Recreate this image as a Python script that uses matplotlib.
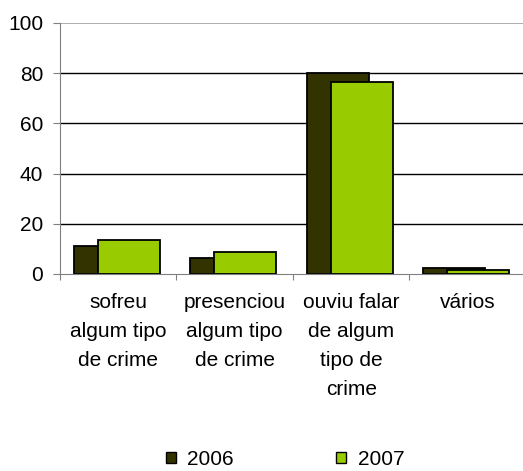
import numpy as np
import matplotlib.pyplot as plt
from matplotlib.patches import Patch

plt.rcParams['font.family'] = ['Liberation Sans', 'DejaVu Sans']

categories = ["sofreu\nalgum tipo\nde crime", "presenciou\nalgum tipo\nde crime",
              "ouviu falar\nde algum\ntipo de\ncrime", "vários"]
values_2006 = [11, 6.4, 80, 2.3]
values_2007 = [13.5, 8.6, 76.5, 1.6]
series_names = ["2006", "2007"]
colors = ["#333300", "#99CC00"]

fig = plt.figure(figsize=(5.23, 4.71), dpi=100)
ax = fig.add_axes([0.1147, 0.4183, 0.891, 0.5329])

x = np.arange(len(categories))
w = 0.53
ax.bar(x + 0.385, values_2006, width=w, color=colors[0], edgecolor="black", linewidth=1.3, zorder=2)
ax.bar(x + 0.59, values_2007, width=w, color=colors[1], edgecolor="black", linewidth=1.3, zorder=3)

ax.set_xlim(0, len(categories))
ax.set_ylim(0, 100)
ax.set_yticks([0, 20, 40, 60, 80, 100])
ax.tick_params(axis='y', labelsize=15, length=5, color="#808080", pad=7)
for yv in [20, 40, 60, 80]:
    ax.axhline(yv, color="black", linewidth=1, zorder=1)
ax.axhline(100, color="#a0a0a0", linewidth=1.2, zorder=1)

ax.set_xticks(np.arange(len(categories) + 1))
ax.set_xticklabels([])
ax.tick_params(axis='x', which='major', length=4, color="#808080")
ax.set_xticks(x + 0.5, minor=True)
ax.set_xticklabels(categories, minor=True, fontsize=15, linespacing=1.65, va='top')
ax.tick_params(axis='x', which='minor', length=0, pad=14)

for s in ["top", "right"]:
    ax.spines[s].set_visible(False)
ax.spines["left"].set_color("#808080")
ax.spines["bottom"].set_color("#808080")

handles = [Patch(facecolor=c, edgecolor="black", linewidth=1) for c in colors]
fig.legend(handles, series_names, loc="center", bbox_to_anchor=(0.545, 0.025),
           ncol=2, frameon=False, fontsize=15, columnspacing=4.9,
           handlelength=0.48, handleheight=0.48, handletextpad=0.55,
           borderpad=0.1)

fig.savefig("out.png", dpi=100)
